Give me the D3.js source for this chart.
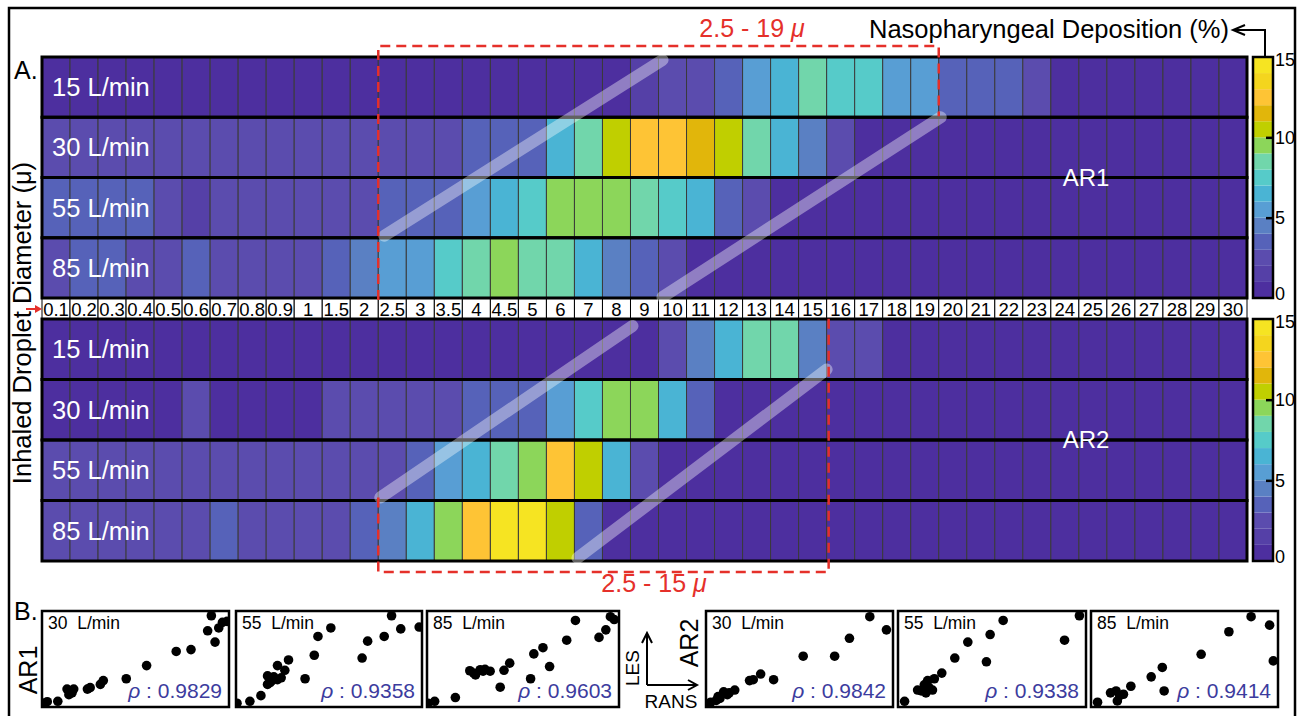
<!DOCTYPE html>
<html><head><meta charset="utf-8">
<script src="https://cdn.jsdelivr.net/npm/d3@7"></script>
<style>body{margin:0;background:#fff} svg{display:block} text{font-family:"Liberation Sans",Arial,Helvetica,sans-serif}</style>
</head><body><svg id="c" width="1306" height="716"></svg>
<script>
// ---------- DATA ----------
const diameters = ["0.1","0.2","0.3","0.4","0.5","0.6","0.7","0.8","0.9","1","1.5","2","2.5","3","3.5","4","4.5","5",
  "6","7","8","9","10","11","12","13","14","15","16","17","18","19","20","21","22","23","24","25","26","27","28","29","30"];
const flowRates = ["15 L/min","30 L/min","55 L/min","85 L/min"];

// Nasopharyngeal deposition (%) per diameter, AR1
const ar1_15 = [0.4,0.4,0.4,0.4,0.4,0.4,0.4,0.4,0.4,0.4,0.4,0.4,0.4,0.4,0.4,0.4,0.4,0.4,0.4,0.4,0.4,
  1.5,2.5,2.5,3.5,5.5,6.5,8.5,7.5,7.5,5.5,5.5,3.5,3.5,3.5,2.5,0.4,0.4,0.4,0.4,0.4,0.4,0.4];
const ar1_30 = [2.5,2.5,2.5,2.5,2.5,2.5,2.5,2.5,2.5,2.5,2.5,2.5,2.5,2.5,2.5,3.5,3.5,3.5,
  6.5,8.5,10.5,12.5,12.5,11.5,10.5,8.5,6.5,4.5,2.5,0.4,0.4,0.4,0.4,0.4,0.4,0.4,0.4,0.4,0.4,0.4,0.4,0.4,0.4];
const ar1_55 = [3.5,3.5,3.5,3.5,2.5,1.5,2.5,2.5,2.5,2.5,2.5,2.5,
  3.5,3.5,3.5,5.5,6.5,7.5,9.5,9.5,9.5,8.5,7.5,6.5,3.5,2.5,
  0.4,0.4,0.4,0.4,0.4,0.4,0.4,0.4,0.4,0.4,0.4,0.4,0.4,0.4,0.4,0.4,0.4];
const ar1_85 = [2.5,3.5,3.5,2.5,2.5,3.5,2.5,2.5,2.5,2.5,3.5,4.5,
  5.5,5.5,7.5,8.5,9.5,8.5,8.5,6.5,4.5,3.5,2.5,
  0.4,0.4,0.4,0.4,0.4,0.4,0.4,0.4,0.4,0.4,0.4,0.4,0.4,0.4,0.4,0.4,0.4,0.4,0.4,0.4];
// AR2
const ar2_15 = [0.4,0.4,0.4,0.4,0.4,0.4,0.4,0.4,0.4,0.4,0.4,0.4,0.4,0.4,0.4,0.4,0.4,0.4,0.4,0.4,0.4,0.4,
  2.5,4.5,6.5,8.5,8.5,4.5,2.5,2.5,0.4,0.4,0.4,0.4,0.4,0.4,0.4,0.4,0.4,0.4,0.4,0.4,0.4];
const ar2_30 = [0.4,0.4,0.4,0.4,0.4,2.5,0.4,0.4,0.4,0.4,2.5,2.5,
  2.5,2.5,2.5,3.5,3.5,3.5,5.5,7.5,9.5,9.5,6.5,3.5,
  0.4,0.4,0.4,0.4,0.4,0.4,0.4,0.4,0.4,0.4,0.4,0.4,0.4,0.4,0.4,0.4,0.4,0.4,0.4];
const ar2_55 = [2.5,2.5,2.5,2.5,2.5,2.5,2.5,2.5,2.5,2.5,2.5,2.5,
  2.5,3.5,5.5,6.5,8.5,9.5,12.5,10.5,6.5,2.5,
  0.4,0.4,0.4,0.4,0.4,0.4,0.4,0.4,0.4,0.4,0.4,0.4,0.4,0.4,0.4,0.4,0.4,0.4,0.4,0.4,0.4];
const ar2_85 = [2.5,2.5,2.5,2.5,2.5,2.5,3.5,2.5,2.5,2.5,2.5,3.5,
  4.5,6.5,9.5,12.5,14.5,14.5,10.5,3.5,
  0.4,0.4,0.4,0.4,0.4,0.4,0.4,0.4,0.4,0.4,0.4,0.4,0.4,0.4,0.4,0.4,0.4,0.4,0.4,0.4,0.4,0.4,0.4];

const levelColors = ["#4d2f9f","#5540a7","#5b4cae","#5662b9","#5a80c3","#589ed4","#4ab4d4","#56cbc9",
  "#71d6ab","#8cd65a","#c0cf00","#e1b60b","#fec435","#f4d51e","#f6e422"];
const colorTicks = [0,5,10,15];

const scatterFlows = ["30  L/min","55  L/min","85  L/min"];
const rhoAR1 = ["0.9829","0.9358","0.9603"];
const rhoAR2 = ["0.9842","0.9338","0.9414"];
// normalized (RANS, LES) pairs
const ptsAR1_30 = [[0,0.03],[0.023,0.046],[0.08,0.05],[0.13,0.18],[0.15,0.16],[0.166,0.18],[0.14,0.12],[0.157,0.14],
  [0.24,0.18],[0.255,0.195],[0.31,0.23],[0.326,0.27],[0.45,0.29],[0.56,0.43],[0.72,0.58],[0.8,0.6],
  [0.93,0.68],[0.89,0.8],[0.95,0.83],[0.91,0.96],[0.97,0.89],[0.995,0.9]];
const ptsAR1_55 = [[0,0.03],[0.07,0.05],[0.13,0.11],[0.166,0.23],[0.166,0.32],[0.19,0.27],[0.22,0.28],[0.24,0.3],
  [0.18,0.25],[0.2,0.31],[0.22,0.43],[0.26,0.38],[0.28,0.49],[0.37,0.29],[0.42,0.54],[0.44,0.74],[0.51,0.83],
  [0.68,0.51],[0.71,0.69],[0.8,0.74],[0.89,0.82],[0.84,0.96],[0.99,0.84]];
const ptsAR1_85 = [[0,0.03],[0.035,0.05],[0.144,0.09],[0.38,0.2],[0.22,0.375],[0.25,0.33],[0.275,0.386],[0.3,0.39],
  [0.327,0.37],[0.24,0.35],[0.29,0.37],[0.4,0.38],[0.43,0.456],[0.54,0.29],[0.557,0.554],[0.605,0.62],
  [0.64,0.42],[0.73,0.7],[0.776,0.91],[0.9,0.73],[0.936,0.81],[0.96,0.95],[0.98,0.92]];
const ptsAR2_30 = [[0,0.02],[0.02,0.04],[0.05,0.06],[0.07,0.08],[0.06,0.1],[0.11,0.12],[0.09,0.15],[0.12,0.14],
  [0.15,0.17],[0.23,0.27],[0.25,0.28],[0.29,0.34],[0.36,0.28],[0.52,0.53],[0.69,0.53],[0.77,0.72],[0.88,0.95],[0.97,0.81]];
const ptsAR2_55 = [[0.03,0.05],[0.1,0.17],[0.12,0.16],[0.145,0.14],[0.16,0.2],[0.18,0.17],[0.136,0.225],[0.154,0.27],
  [0.19,0.29],[0.23,0.35],[0.3,0.51],[0.37,0.68],[0.47,0.47],[0.49,0.76],[0.56,0.91],[0.89,0.7],[0.97,0.96]];
const ptsAR2_85 = [[0.03,0.04],[0.13,0.16],[0.15,0.11],[0.17,0.125],[0.137,0.054],[0.1,0.14],[0.21,0.21],[0.32,0.31],
  [0.38,0.41],[0.39,0.16],[0.59,0.55],[0.74,0.79],[0.86,0.95],[0.96,0.86],[0.98,0.48]];

// ---------- DRAW ----------
const svg = d3.select("#c");
const FONT = '"Liberation Sans",Arial,Helvetica,sans-serif';
const RED = "#e5302a";

svg.append("rect").attr("x",9).attr("y",8).attr("width",1286).attr("height",730)
  .attr("fill","none").attr("stroke","#000").attr("stroke-width",2.5);

const x = d3.scaleBand().domain(diameters).range([42,1247]);
const yA = d3.scaleBand().domain(flowRates).range([57,298]);
const yB = d3.scaleBand().domain(flowRates).range([319,561]);
const color = d3.scaleThreshold().domain(d3.range(1,15)).range(levelColors);

function heat(rows, y, name) {
  const g = svg.append("g");
  rows.forEach((vals, r) => {
    const fr = flowRates[r];
    g.append("g").selectAll("rect").data(vals).join("rect")
      .attr("x",(d,i)=>x(diameters[i])).attr("y",y(fr))
      .attr("width",x.bandwidth()).attr("height",y.bandwidth())
      .attr("fill",d=>color(d)).attr("stroke","#3a3a3a").attr("stroke-width",1);
  });
  rows.forEach((vals, r) => {
    const fr = flowRates[r];
    g.append("rect").attr("x",x.range()[0]).attr("y",y(fr))
      .attr("width",x.range()[1]-x.range()[0]).attr("height",y.bandwidth())
      .attr("fill","none").attr("stroke","#000").attr("stroke-width",3);
    g.append("text").attr("x",52).attr("y",y(fr)+y.bandwidth()/2+9)
      .attr("fill","#fff").attr("font-size",25.5).text(fr);
  });
  g.append("text").attr("x",1086).attr("y",y(flowRates[1])+y.bandwidth()+8)
    .attr("text-anchor","middle").attr("fill","#fff").attr("font-size",24).text(name);
}
heat([ar1_15,ar1_30,ar1_55,ar1_85], yA, "AR1");
heat([ar2_15,ar2_30,ar2_55,ar2_85], yB, "AR2");

// tick label row
const tg = svg.append("g");
tg.selectAll("rect").data(diameters).join("rect")
  .attr("x",d=>x(d)).attr("y",yA.range()[1]+1).attr("width",x.bandwidth()).attr("height",yB.range()[0]-yA.range()[1]-2)
  .attr("fill","#fff").attr("stroke","#000").attr("stroke-width",1);
tg.selectAll("text").data(diameters).join("text")
  .attr("x",d=>x(d)+x.bandwidth()/2).attr("y",315.5).attr("text-anchor","middle")
  .attr("font-size",18.5).text(d=>d);

// colorbars
function colorbar(y0, y1) {
  const cb = d3.scaleLinear().domain([0,15]).range([y1,y0]);
  const g = svg.append("g");
  g.selectAll("rect").data(levelColors).join("rect")
    .attr("x",1253).attr("width",20).attr("y",(d,i)=>cb(i+1)).attr("height",(d,i)=>cb(i)-cb(i+1))
    .attr("fill",d=>d);
  g.append("rect").attr("x",1253).attr("y",y0).attr("width",20).attr("height",y1-y0)
    .attr("fill","none").attr("stroke","#000").attr("stroke-width",2.5);
  const ax = g.append("g").attr("transform","translate(1266,0)")
    .call(d3.axisRight(cb).tickValues(colorTicks).tickSize(8).tickPadding(1).tickFormat(d3.format("d")));
  ax.select(".domain").remove();
  ax.selectAll(".tick line").attr("stroke","#000").attr("stroke-width",2.5)
    .attr("opacity",d=>(d===0||d===15)?0:1);
  ax.selectAll(".tick text").attr("font-size",18).attr("font-family",FONT).attr("fill","#000")
    .attr("dy",d=>d===15?"0.45em":d===0?"0.1em":"0.32em");
}
colorbar(yA.range()[0], yA.range()[1]);
colorbar(yB.range()[0], yB.range()[1]);

// title + arrow
svg.append("text").attr("x",1229).attr("y",38).attr("text-anchor","end").attr("font-size",25.5)
  .text("Nasopharyngeal Deposition (%)");
svg.append("path").attr("d","M1265,56 V30 H1234 M1245,25 L1233,30 L1245,35")
  .attr("fill","none").attr("stroke","#000").attr("stroke-width",2);

// diagonal translucent bands
const bands = [
  [[x("2.5")+6, yA("55 L/min")+yA.bandwidth()-2],[x("10")+4, yA("15 L/min")+3]],
  [[x("10")+4, yA("85 L/min")+yA.bandwidth()-1],[x("20")+2, yA("30 L/min")]],
  [[x("2.5")+2, yB("85 L/min")-3],[x("9")+2, yB("15 L/min")+7]],
  [[x("7")+3, yB("85 L/min")+yB.bandwidth()-3],[x("16"), yB("30 L/min")-10]]
];
svg.append("g").selectAll("line").data(bands).join("line")
  .attr("x1",d=>d[0][0]).attr("y1",d=>d[0][1]).attr("x2",d=>d[1][0]).attr("y2",d=>d[1][1])
  .attr("stroke","#fff").attr("stroke-opacity",0.38).attr("stroke-width",12).attr("stroke-linecap","round");

// red dashed boxes
svg.append("path").attr("d",`M${x("2.5")},300 V46 H${x("20")} V${yA("30 L/min")-1}`)
  .attr("fill","none").attr("stroke",RED).attr("stroke-width",2.5).attr("stroke-dasharray","10,6");
svg.append("path").attr("d",`M${x("2.5")},${yB("85 L/min")-3} V572 H${x("16")+2} V318`)
  .attr("fill","none").attr("stroke",RED).attr("stroke-width",2.5).attr("stroke-dasharray","10,6");
function rangeLabel(cx, cy, t) {
  const tx = svg.append("text").attr("x",cx).attr("y",cy).attr("text-anchor","middle")
    .attr("fill",RED).attr("font-size",25);
  tx.append("tspan").text(t);
  tx.append("tspan").attr("font-style","italic").text("\u03bc");
}
rangeLabel(752, 37, "2.5 - 19 ");
rangeLabel(654, 592, "2.5 - 15 ");

// panel letters & y label
svg.append("text").attr("x",14).attr("y",79).attr("font-size",25).text("A.");
svg.append("text").attr("x",14).attr("y",620).attr("font-size",25).text("B.");
svg.append("text").attr("transform","translate(31,323) rotate(-90)").attr("text-anchor","middle")
  .attr("font-size",25.5).text("Inhaled Droplet Diameter (\u03bc)");
svg.append("path").attr("d","M26,309 H36").attr("stroke",RED).attr("stroke-width",2);
svg.append("path").attr("d","M35,305 L42,309 L35,313 Z").attr("fill",RED);

// scatter panels
const panels = [
  {l:42,r:229,pts:ptsAR1_30,flow:scatterFlows[0],rho:rhoAR1[0]},
  {l:236,r:422,pts:ptsAR1_55,flow:scatterFlows[1],rho:rhoAR1[1]},
  {l:427,r:619,pts:ptsAR1_85,flow:scatterFlows[2],rho:rhoAR1[2]},
  {l:706,r:893,pts:ptsAR2_30,flow:scatterFlows[0],rho:rhoAR2[0]},
  {l:898,r:1086,pts:ptsAR2_55,flow:scatterFlows[1],rho:rhoAR2[1]},
  {l:1091,r:1278,pts:ptsAR2_85,flow:scatterFlows[2],rho:rhoAR2[2]}
];
const pTop = 611, pBot = 707;
panels.forEach((p, k) => {
  const sx = d3.scaleLinear().domain([0,1]).range([p.l+1, p.r-1]);
  const sy = d3.scaleLinear().domain([0,1]).range([pBot-1, pTop+1]);
  const g = svg.append("g");
  g.append("clipPath").attr("id","cp"+k).append("rect")
    .attr("x",p.l).attr("y",pTop).attr("width",p.r-p.l).attr("height",pBot-pTop);
  g.append("rect").attr("x",p.l).attr("y",pTop).attr("width",p.r-p.l).attr("height",pBot-pTop).attr("fill","#fff");
  g.append("text").attr("x",p.l+6).attr("y",628.5).attr("font-size",17.5)
    .style("white-space","pre").text(p.flow);
  const rt = g.append("text").attr("x",p.r-7).attr("y",697.5).attr("text-anchor","end")
    .attr("font-size",21).attr("fill","#3c3c9e");
  rt.append("tspan").attr("font-style","italic").text("\u03c1");
  rt.append("tspan").text(" : " + p.rho);
  g.append("g").attr("clip-path",`url(#cp${k})`).selectAll("circle").data(p.pts).join("circle")
    .attr("cx",d=>sx(d[0])).attr("cy",d=>sy(d[1])).attr("r",4.8).attr("fill","#000");
  g.append("rect").attr("x",p.l).attr("y",pTop).attr("width",p.r-p.l).attr("height",pBot-pTop)
    .attr("fill","none").attr("stroke","#000").attr("stroke-width",2.5);
});
svg.append("text").attr("transform","translate(37,670) rotate(-90)").attr("text-anchor","middle")
  .attr("font-size",25).text("AR1");
svg.append("text").attr("transform","translate(698,643) rotate(-90)").attr("text-anchor","middle")
  .attr("font-size",25).text("AR2");
// LES / RANS arrows
svg.append("path").attr("d","M647,685 V633 M642,643 L647,633 L652,643 M647,685 H697 M688,680 L697,685 L688,690")
  .attr("fill","none").attr("stroke","#000").attr("stroke-width",2);
svg.append("text").attr("transform","translate(639,668) rotate(-90)").attr("text-anchor","middle")
  .attr("font-size",19).text("LES");
svg.append("text").attr("x",671).attr("y",708).attr("text-anchor","middle").attr("font-size",19).text("RANS");
</script></body></html>
